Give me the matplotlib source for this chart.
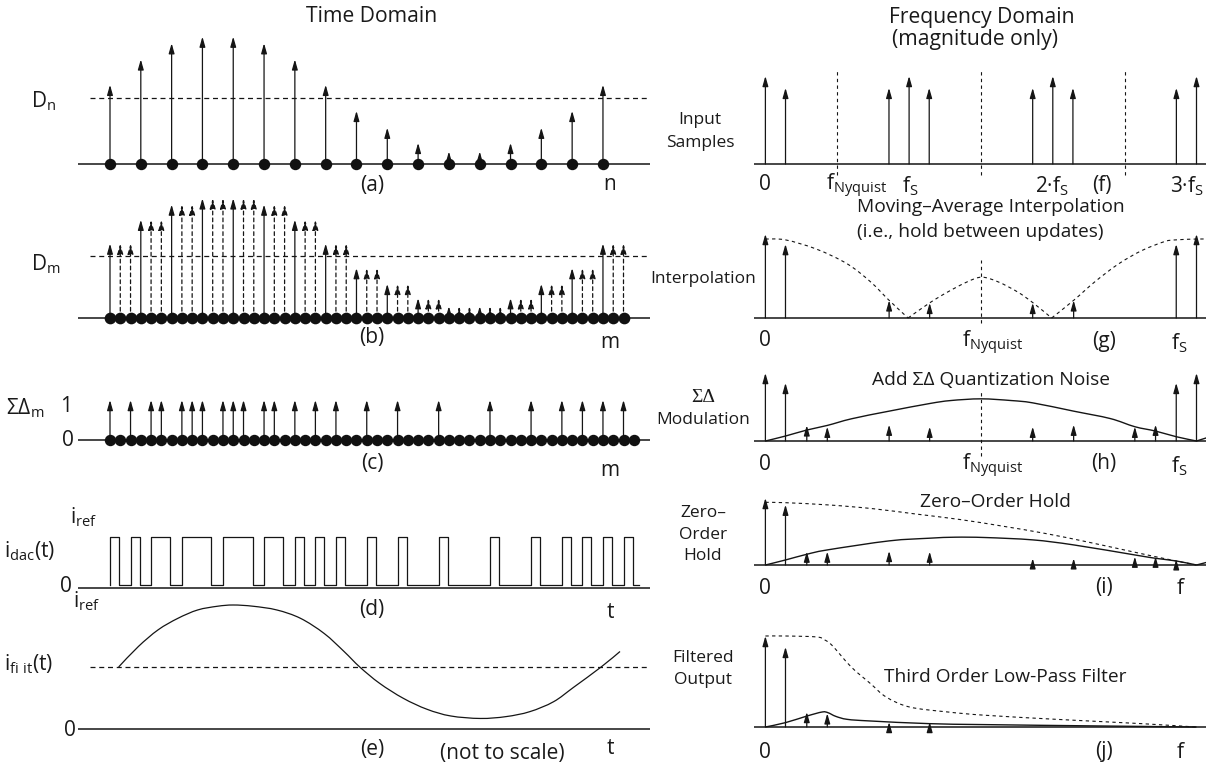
import numpy as np
import matplotlib
matplotlib.use("Agg")
import matplotlib.pyplot as plt
from matplotlib.transforms import Affine2D, blended_transform_factory
from matplotlib.path import Path
from matplotlib.patches import PathPatch

# ------------------------------------------------------------------ data
# (a) input samples D_n, relative to the mean level (dashed line = 1)
D_n = [1.2, 1.585, 1.83, 1.93, 1.93, 1.83, 1.585, 1.2, 0.805,
       0.55, 0.32, 0.19, 0.19, 0.32, 0.55, 0.805, 1.2]
UPSAMPLE = 3
# (c) sigma-delta output: indices m where the bit is 1
sd_ones = [0, 2, 4, 5, 7, 8, 9, 11, 12, 13, 15, 16, 18, 20, 22, 25, 28,
           32, 37, 41, 44, 46, 48, 50]
sd_len = 52
# (e) filtered output (m, level; dashed mean = 1)
filt_m = [0.84, 2.76, 4.69, 6.61, 8.54, 10.47, 12.0, 13.93, 16.24, 18.55,
          20.86, 22.79, 24.32, 26.25, 28.56, 30.87, 33.18, 36.07, 38.57,
          40.88, 43.19, 45.12, 47.82, 49.66]
filt_v = [1.0, 1.33, 1.60, 1.785, 1.92, 1.98, 2.0, 1.98, 1.92, 1.785,
          1.54, 1.25, 1.0, 0.737, 0.495, 0.318, 0.21, 0.17, 0.2,
          0.28, 0.44, 0.67, 1.0, 1.25]
# (f) input spectrum, frequency in units of the input sample rate
f_pos = [0, 0.14, 0.86, 1, 1.14, 1.86, 2, 2.14, 2.86, 3]
f_mag = [1, 0.865, 0.865, 1, 0.865, 0.865, 1, 0.865, 0.865, 1]
f_nyq = [0.5, 1.5, 2.5]
# (g) interpolation, frequency in units of the new rate f_S
g_pos = [0, 0.0466, 0.287, 0.381, 0.62, 0.715, 0.953, 1.0]
g_mag = [1, 0.88, 0.21, 0.18, 0.18, 0.21, 0.88, 1]
g_env_f = [0, 0.0466, 0.1185, 0.19, 0.244, 0.287, 0.331, 0.381, 0.423,
           0.468, 0.502, 0.54, 0.585, 0.621, 0.664, 0.715, 0.764, 0.818,
           0.872, 0.926, 0.952, 1.0, 1.03]
g_env_v = [0.94, 0.93, 0.82, 0.644, 0.43, 0.21, 0.0, 0.18, 0.31, 0.43,
           0.486, 0.43, 0.31, 0.18, 0.0, 0.21, 0.43, 0.64, 0.80, 0.91,
           0.93, 0.94, 0.94]
g_nulls = [6, 14]
# (h) sigma-delta modulation
h_pos = [0, 0.0466, 0.096, 0.1436, 0.287, 0.381, 0.62, 0.715, 0.857,
         0.905, 0.953, 1.0]
h_mag = [1, 0.854, 0.23, 0.21, 0.24, 0.21, 0.21, 0.24, 0.21, 0.24,
         0.854, 1]
h_noise_f = [0, 0.0466, 0.096, 0.1436, 0.2, 0.287, 0.381, 0.43, 0.5,
             0.57, 0.62, 0.715, 0.8, 0.857, 0.905, 0.953, 1.0, 1.03]
h_noise_v = [0, 0.073, 0.161, 0.229, 0.327, 0.439, 0.551, 0.595, 0.62,
             0.595, 0.561, 0.439, 0.33, 0.21, 0.146, 0.063, 0, 0.06]
h_nulls = [16]
# (i) zero-order hold
i_pos = [0, 0.0466, 0.096, 0.1436, 0.287, 0.381, 0.62, 0.715, 0.857,
         0.905, 0.953]
i_mag = [1, 0.9, 0.2, 0.2, 0.21, 0.2, 0.1, 0.1, 0.125, 0.125, 0.085]
i_zoh_f = [0, 0.0466, 0.15, 0.25, 0.35, 0.45, 0.55, 0.65, 0.75, 0.85,
           0.93, 1.0]
i_zoh_v = [0.935, 0.93, 0.895, 0.84, 0.76, 0.68, 0.58, 0.47, 0.34, 0.2,
           0.09, 0.0]
i_out_f = [0, 0.0466, 0.096, 0.1436, 0.287, 0.381, 0.44, 0.51, 0.62,
           0.715, 0.857, 0.905, 0.953, 1.0, 1.03]
i_out_v = [0, 0.075, 0.16, 0.225, 0.36, 0.40, 0.415, 0.41, 0.375, 0.30,
           0.15, 0.10, 0.06, 0, 0.05]
i_nulls = [13]
# (j) third-order low-pass filter
j_pos = [0, 0.0466, 0.096, 0.1436, 0.287, 0.381]
j_mag = [1, 0.88, 0.165, 0.15, 0.055, 0.055]
j_lpf_f = [0, 0.0466, 0.1183, 0.136, 0.154, 0.199, 0.244, 0.28, 0.334,
           0.423, 0.513, 0.692, 0.872, 0.998]
j_lpf_v = [1.0, 1.0, 0.99, 0.96, 0.9, 0.66, 0.476, 0.33, 0.22, 0.165,
           0.128, 0.08, 0.037, 0.0]
j_out_f = [0, 0.0466, 0.096, 0.1318, 0.1453, 0.1632, 0.19, 0.244, 0.379,
           0.513, 0.782, 1.0]
j_out_v = [0, 0.048, 0.12, 0.165, 0.157, 0.117, 0.084, 0.066, 0.037,
           0.026, 0.011, 0]

# ------------------------------------------------------------------ style
plt.rcParams['font.family'] = ['Open Sans', 'DejaVu Sans']
plt.rcParams['mathtext.fontset'] = 'custom'
plt.rcParams['mathtext.rm'] = 'Open Sans'
plt.rcParams['mathtext.it'] = 'Open Sans'
plt.rcParams['mathtext.sf'] = 'Open Sans'
C = '#151515'
FS = 15      # axis letters / variable names
FSS = 12.5   # row names on the right column
FST = 13.8   # panel titles in the right column
FSH = 15.2   # column headers
DASH = (0, (4, 3))
SDASH = (0, (3, 3))

W, H = 1206, 767
fig = plt.figure(figsize=(W / 100, H / 100), dpi=100)
PX = Affine2D().scale(1, -1).translate(0, H)   # pixel coords from top-left


def panel(x0, x1, y0, y1, px0, ppu, yb, s):
    ax = fig.add_axes([x0 / W, 1 - y1 / H, (x1 - x0) / W, (y1 - y0) / H])
    ax.set_xlim((x0 - px0) / ppu, (x1 - px0) / ppu)
    ax.set_ylim((yb - y1) / s, (yb - y0) / s)
    ax.axis('off')
    ax.patch.set_alpha(0)
    ax._px0, ax._ppu = px0, ppu
    return ax


def hx(ax, px):
    return (px - ax._px0) / ax._ppu


AP = dict(arrowstyle='-|>,head_length=0.6,head_width=0.17',
          mutation_scale=10, lw=0.9, color=C, shrinkA=0, shrinkB=0)


def arrow(ax, x, v, ls='-'):
    ax.annotate('', xy=(x, v), xytext=(x, 0),
                arrowprops=dict(AP, linestyle=ls), annotation_clip=False)


def baseline(ax, p0, p1):
    ax.plot([hx(ax, p0), hx(ax, p1)], [0, 0], color=C, lw=1.1,
            solid_capstyle='butt', zorder=1)


def smooth(ax, xs, ys, breaks=(), lw=1.0, ls='-'):
    """Draw a smooth (Catmull-Rom) curve through the read points."""
    pts = np.column_stack([xs, ys]).astype(float)
    cuts = [0] + list(breaks) + [len(pts) - 1]
    for a, b in zip(cuts[:-1], cuts[1:]):
        p = pts[a:b + 1]
        if len(p) < 2:
            continue
        ext = np.vstack([p[0], p, p[-1]])
        verts = [p[0]]
        codes = [Path.MOVETO]
        for i in range(len(p) - 1):
            p0, p1, p2, p3 = ext[i], ext[i + 1], ext[i + 2], ext[i + 3]
            verts += [p1 + (p2 - p0) / 6, p2 - (p3 - p1) / 6, p2]
            codes += [Path.CURVE4] * 3
        ax.add_patch(PathPatch(Path(verts, codes), fill=False,
                               edgecolor=C, lw=lw, linestyle=ls))


def txt(x, y, s, size=FS, ha='center', **kw):
    fig.text(x, y, s, transform=PX, ha=ha, va='center', fontsize=size,
             color='#1a1a1a', **kw)


def xtxt(ax, x, y, s, ha='center', size=FS):
    ax.text(x, y, s, transform=blended_transform_factory(ax.transData, PX),
            ha=ha, va='center', fontsize=size, color='#1a1a1a')


# ------------------------------------------------------------------ left column
LPX0, LPPU = 110.0, 10.27   # pixel of m = 0, pixels per m
axa = panel(0, 650, 0, 200, LPX0, LPPU, 164, 66)
axb = panel(0, 650, 195, 355, LPX0, LPPU, 318, 62)
axc = panel(0, 650, 355, 480, LPX0, LPPU, 440, 40)
axd = panel(0, 650, 480, 625, LPX0, LPPU, 588, 51)
axe = panel(0, 650, 590, 767, LPX0, LPPU, 729, 62)

# (a)
n_m = np.arange(len(D_n)) * UPSAMPLE
baseline(axa, 78, 650)
axa.plot([hx(axa, 90), hx(axa, 647)], [1, 1], color=C, lw=0.9, ls=DASH)
for m, v in zip(n_m, D_n):
    arrow(axa, m, v)
axa.plot(n_m, np.zeros(len(n_m)), 'o', ms=7.2, color='#111', zorder=5)

# (b)
baseline(axb, 78, 650)
axb.plot([hx(axb, 90), hx(axb, 647)], [1, 1], color=C, lw=0.9, ls=DASH)
m_all = []
for n, v in enumerate(D_n):
    for k in range(UPSAMPLE):
        m = n * UPSAMPLE + k
        m_all.append(m)
        arrow(axb, m, v, ls='-' if k == 0 else (0, (3, 2.5)))
axb.plot(m_all, np.zeros(len(m_all)), 'o', ms=7.4, color='#111', zorder=5)

# (c)
baseline(axc, 78, 650)
for m in sd_ones:
    arrow(axc, m, 1.0)
axc.plot(np.arange(sd_len), np.zeros(sd_len), 'o', ms=7.2, color='#111',
         zorder=5)

# (d) current-steering DAC output built from the sigma-delta bits
baseline(axd, 78, 650)
low, high, pw = 0.06, 1.0, 0.88
bits = np.zeros(sd_len, dtype=int)
bits[sd_ones] = 1
xs, ys = [0], [low]
k = 0
while k < sd_len:
    if bits[k]:
        j = k
        while j + 1 < sd_len and bits[j + 1]:
            j += 1
        xs += [k, k, j + pw, j + pw]
        ys += [low, high, high, low]
        k = j + 1
    else:
        k += 1
xs.append(51.5)
ys.append(low)
axd.plot(xs, ys, color=C, lw=0.9)

# (e)
baseline(axe, 78, 650)
axe.plot([hx(axe, 90), hx(axe, 647)], [1, 1], color=C, lw=0.9, ls=DASH)
smooth(axe, filt_m, filt_v, lw=0.9)

# left labels
txt(372, 17, 'Time Domain', size=FSH)
txt(31, 101, r'D$_\mathrm{n}$', ha='left')
txt(372, 185, '(a)'); txt(610, 185, 'n')
txt(31, 264, r'D$_\mathrm{m}$', ha='left')
txt(372, 338, '(b)'); txt(610, 343, 'm')
txt(6, 408, r'ΣΔ$_\mathrm{m}$', ha='left')
txt(66, 406, '1'); txt(68, 440, '0')
txt(372, 463, '(c)'); txt(610, 470, 'm')
txt(70, 517, r'i$_\mathrm{ref}$', ha='left')
txt(4, 551, r'i$_\mathrm{dac}$(t)', ha='left')
txt(66, 587, '0')
txt(372, 609, '(d)'); txt(610, 612, 't')
txt(73, 601, r'i$_\mathrm{ref}$', ha='left')
txt(4, 664, r'i$_\mathrm{fi\ it}$(t)', ha='left')
txt(70, 730, '0')
txt(372, 749, '(e)'); txt(502, 753, '(not to scale)'); txt(610, 749, 't')

# ------------------------------------------------------------------ right column
RPX0, RPPU = 765.4, 431.1   # pixel of f = 0, pixels per f_S
axf = panel(650, 1206, 0, 200, RPX0, RPPU / 3, 164, 88)
axg = panel(650, 1206, 190, 355, RPX0, RPPU, 318, 84)
axh = panel(650, 1206, 350, 480, RPX0, RPPU, 441, 68)
axi = panel(650, 1206, 480, 610, RPX0, RPPU, 565, 67)
axj = panel(650, 1206, 600, 767, RPX0, RPPU, 727, 91)

# (f)
baseline(axf, 754, 1206)
for x in f_nyq:
    axf.plot([x, x], [-0.125, 1.07], color=C, lw=0.8, ls=SDASH)
for x, v in zip(f_pos, f_mag):
    arrow(axf, x, v)

# (g)
baseline(axg, 754, 1206)
axg.plot([0.5, 0.5], [-0.06, 0.69], color=C, lw=0.8, ls=SDASH)
smooth(axg, g_env_f, g_env_v, breaks=g_nulls, lw=0.8, ls=SDASH)
for x, v in zip(g_pos, g_mag):
    arrow(axg, x, v)

# (h)
baseline(axh, 754, 1206)
axh.plot([0.5, 0.5], [-0.22, 0.74], color=C, lw=0.8, ls=SDASH)
smooth(axh, h_noise_f, h_noise_v, breaks=h_nulls, lw=1.0)
for x, v in zip(h_pos, h_mag):
    arrow(axh, x, v)

# (i)
baseline(axi, 754, 1206)
smooth(axi, i_zoh_f, i_zoh_v, lw=0.8, ls=SDASH)
smooth(axi, i_out_f, i_out_v, breaks=i_nulls, lw=1.0)
for x, v in zip(i_pos, i_mag):
    arrow(axi, x, v)

# (j)
baseline(axj, 754, 1206)
smooth(axj, j_lpf_f, j_lpf_v, lw=0.8, ls=SDASH)
smooth(axj, j_out_f, j_out_v, lw=1.0)
for x, v in zip(j_pos, j_mag):
    arrow(axj, x, v)

# right labels
txt(982, 17, 'Frequency Domain', size=FSH)
txt(975, 40, '(magnitude only)', size=FSH)
txt(700, 120, 'Input', size=FSS); txt(700, 143, 'Samples', size=FSS)
xtxt(axf, 0, 185, '0')
txt(826, 186, r'f$_\mathrm{Nyquist}$', ha='left')
txt(902, 186, r'f$_\mathrm{S}$', ha='left')
txt(1035, 186, r'2·f$_\mathrm{S}$', ha='left')
txt(1102, 185, '(f)')
txt(1170, 186, r'3·f$_\mathrm{S}$', ha='left')

txt(857, 207, 'Moving–Average Interpolation', ha='left', size=FST)
txt(857, 232, '(i.e., hold between updates)', ha='left', size=FST)
txt(703, 279, 'Interpolation', size=FSS)
xtxt(axg, 0, 341, '0')
txt(962, 343, r'f$_\mathrm{Nyquist}$', ha='left')
txt(1104, 341, '(g)')
txt(1171, 343, r'f$_\mathrm{S}$', ha='left')

txt(991, 380, 'Add ΣΔ Quantization Noise', size=FST)
txt(703, 397, 'ΣΔ', size=14, family=['Liberation Serif', 'DejaVu Serif'])
txt(703, 420, 'Modulation', size=FSS)
xtxt(axh, 0, 464, '0')
txt(962, 466, r'f$_\mathrm{Nyquist}$', ha='left')
txt(1104, 464, '(h)')
txt(1171, 466, r'f$_\mathrm{S}$', ha='left')

txt(995, 502, 'Zero–Order Hold', size=FST)
txt(703, 513, 'Zero–', size=FSS); txt(703, 535, 'Order', size=FSS)
txt(703, 556, 'Hold', size=FSS)
xtxt(axi, 0, 588, '0')
txt(1104, 588, '(i)')
txt(1180, 588, 'f')

txt(1005, 677, 'Third Order Low-Pass Filter', size=FST)
txt(703, 658, 'Filtered', size=FSS); txt(703, 680, 'Output', size=FSS)
xtxt(axj, 0, 752, '0')
txt(1104, 752, '(j)')
txt(1180, 752, 'f')

fig.savefig('out.png', dpi=100)
